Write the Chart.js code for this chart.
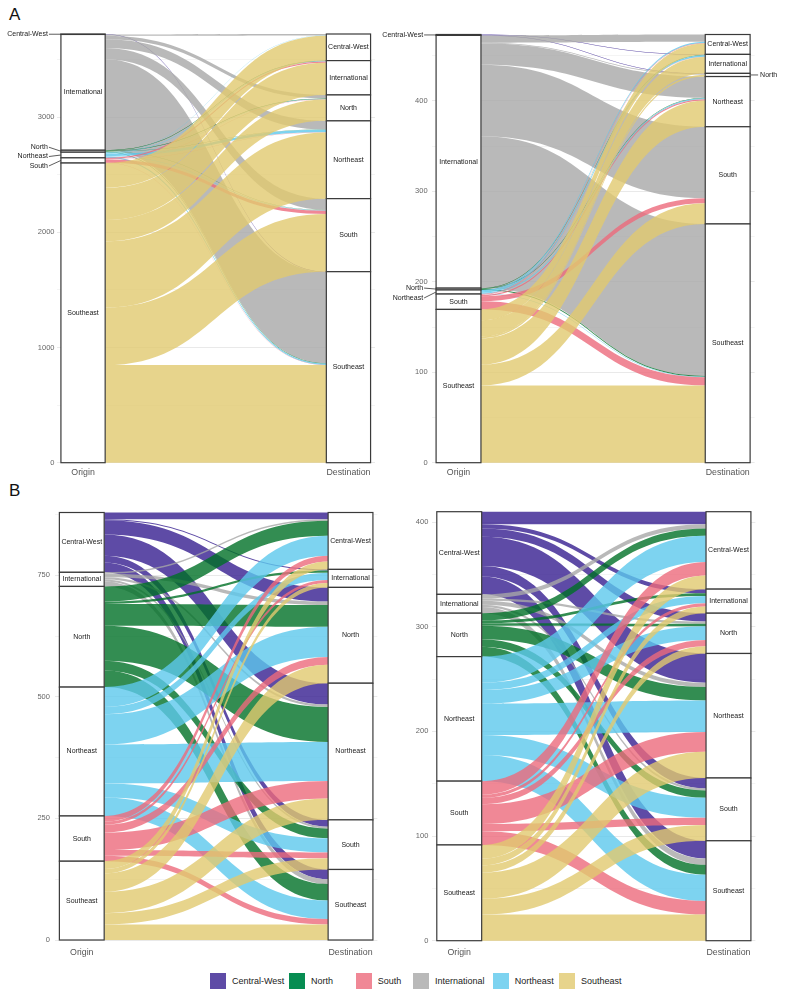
<!DOCTYPE html>
<html>
<head>
<meta charset="utf-8">
<script src="https://cdn.jsdelivr.net/npm/chart.js@4.4.1/dist/chart.umd.min.js"></script>
<style>
  body { margin: 0; background: #fff; width: 793px; height: 1001px; position: relative; overflow: hidden;
         font-family: "Liberation Sans", Arial, sans-serif; }
  canvas { position: absolute; }
  .tag { position: absolute; font-size: 17px; color: #111; }
  .key { position: absolute; top: 973px; height: 16px; display: flex; align-items: center; font-size: 9px; color: #222; white-space: nowrap; }
  .key span { display: inline-block; width: 16px; height: 16px; margin-right: 6px; }
</style>
</head>
<body>
<div class="tag" style="left:9px;top:5px">A</div>
<div class="tag" style="left:9px;top:481px">B</div>
<canvas id="aLeft"></canvas>
<canvas id="aRight"></canvas>
<canvas id="bLeft"></canvas>
<canvas id="bRight"></canvas>
<div id="legend"></div>
<script>
const regions = ['Central-West', 'International', 'North', 'Northeast', 'South', 'Southeast'];
const regionColors = ['#5e4ba6', '#b9b9b9', '#078d52', '#7dd3f0', '#f08896', '#e7d48c'];
const stages = ['Origin', 'Destination'];
const legendOrder = ['Central-West', 'North', 'South', 'International', 'Northeast', 'Southeast'];

// rows = origin, columns = destination, both in the order of `regions`
const flowsA1 = [
  [0, 0, 0, 0, 1, 3],
  [12, 0, 30, 75, 98, 790],
  [0, 3, 5, 3, 2, 4],
  [4, 5, 3, 20, 5, 12],
  [0, 10, 2, 3, 28, 2],
  [215, 280, 185, 574, 500, 847]
];
const flowsA2 = [
  [0, 0.5, 0.5, 0, 0, 0],
  [8, 0, 1, 23.5, 79, 168],
  [0, 0.5, 0, 0.5, 0, 1],
  [1.5, 1.5, 0, 1, 0, 0.5],
  [0.5, 0.5, 0, 1.5, 5.5, 9],
  [12, 18, 2, 29, 23, 85.5]
];
const flowsB1 = [
  [14, 2, 29, 44, 14, 20],
  [3, 0, 7, 5, 4, 10],
  [31, 5, 45, 72, 20, 34],
  [41, 15, 62, 80, 29, 38],
  [12, 6, 16, 36, 12, 11],
  [16, 9, 38, 44, 23, 32]
];
const flowsB2 = [
  [12, 4, 8, 28, 10, 17],
  [4, 0, 2, 4, 2, 6],
  [7, 2.5, 2.5, 13, 7, 9.5],
  [25, 7, 13, 30, 19, 25],
  [13, 3, 6, 19, 7, 13],
  [13, 6.5, 7, 25, 15, 25]
];

const ticksA1 = [0, 1000, 2000, 3000];
const ticksA2 = [0, 100, 200, 300, 400];
const ticksB1 = [0, 250, 500, 750];
const ticksB2 = [0, 100, 200, 300, 400];

const FONT = '"Liberation Sans", Arial, sans-serif';
const BAR_W = 1 / 6;
const ALPHA = 0.8;

// base colour that shows the legend colour when laid on white at ALPHA
function flowColor(hex) {
  const c = [1, 3, 5].map(i => parseInt(hex.slice(i, i + 2), 16));
  const b = c.map(v => Math.max(0, Math.min(255, Math.round((v - 255 * (1 - ALPHA)) / ALPHA))));
  return `rgba(${b[0]},${b[1]},${b[2]},${ALPHA})`;
}

const sum = a => a.reduce((s, v) => s + v, 0);

const alluvial = {
  id: 'alluvial',
  afterDatasetsDraw(chart, args, opts) {
    const { ctx, scales: { x, y } } = chart;
    const m = opts.flows;
    const n = regions.length;
    const outTot = m.map(sum);
    const inTot = regions.map((_, j) => sum(m.map(r => r[j])));
    const total = sum(outTot);
    const oTop = [], dTop = [];
    let a = total, b = total;
    for (let i = 0; i < n; i++) { oTop.push(a); a -= outTot[i]; dTop.push(b); b -= inTot[i]; }

    const oL = x.getPixelForValue(1 - BAR_W / 2), oR = x.getPixelForValue(1 + BAR_W / 2);
    const dL = x.getPixelForValue(2 - BAR_W / 2), dR = x.getPixelForValue(2 + BAR_W / 2);
    const xm = (oR + dL) / 2;

    // flows
    const oCur = oTop.slice(), dCur = dTop.slice();
    ctx.save();
    for (let i = 0; i < n; i++) {
      ctx.fillStyle = flowColor(regionColors[i]);
      for (let j = 0; j < n; j++) {
        const v = m[i][j];
        if (!v) continue;
        const a0 = y.getPixelForValue(oCur[i]), a1 = y.getPixelForValue(oCur[i] - v);
        const b0 = y.getPixelForValue(dCur[j]), b1 = y.getPixelForValue(dCur[j] - v);
        oCur[i] -= v; dCur[j] -= v;
        ctx.beginPath();
        ctx.moveTo(oR, a0);
        ctx.bezierCurveTo(xm, a0, xm, b0, dL, b0);
        ctx.lineTo(dL, b1);
        ctx.bezierCurveTo(xm, b1, xm, a1, oR, a1);
        ctx.closePath();
        ctx.fill();
      }
    }

    // strata
    const sides = [
      { tops: oTop, tots: outTot, l: oL, r: oR },
      { tops: dTop, tots: inTot, l: dL, r: dR }
    ];
    ctx.font = '7px ' + FONT;
    ctx.textBaseline = 'middle';
    sides.forEach((s, side) => {
      for (let i = 0; i < n; i++) {
        if (!s.tots[i]) continue;
        const t = y.getPixelForValue(s.tops[i]);
        const btm = y.getPixelForValue(s.tops[i] - s.tots[i]);
        ctx.fillStyle = '#fff';
        ctx.fillRect(s.l, t, s.r - s.l, btm - t);
        ctx.strokeStyle = '#3a3a3a';
        ctx.lineWidth = 1.2;
        ctx.strokeRect(s.l, t, s.r - s.l, btm - t);
        const mid = (t + btm) / 2;
        const out = (opts.outside || []).find(o => o.side === side && o.name === regions[i]);
        ctx.fillStyle = '#1a1a1a';
        if (out) {
          const ty = mid + out.dy;
          ctx.strokeStyle = '#333';
          ctx.lineWidth = 0.8;
          ctx.beginPath();
          if (side === 0) {
            ctx.moveTo(s.l - 12, ty); ctx.lineTo(s.l, mid);
            ctx.stroke();
            ctx.textAlign = 'right';
            ctx.fillText(regions[i], s.l - 13, ty);
          } else {
            ctx.moveTo(s.r, mid); ctx.lineTo(s.r + 8, ty);
            ctx.stroke();
            ctx.textAlign = 'left';
            ctx.fillText(regions[i], s.r + 10, ty);
          }
        } else if (btm - t >= 9) {
          ctx.textAlign = 'center';
          ctx.fillText(regions[i], (s.l + s.r) / 2, mid);
        }
      }
    });
    ctx.restore();
  }
};

function makePanel(id, flows, ticks, box, area, opt) {
  const canvas = document.getElementById(id);
  canvas.width = box.w;
  canvas.height = box.h;
  canvas.style.left = box.x + 'px';
  canvas.style.top = box.y + 'px';
  const total = sum(flows.map(sum));
  const step = ticks[1] - ticks[0];
  const gridVals = [];
  for (let v = 0; v <= total; v += step / 2) gridVals.push(v);

  new Chart(canvas, {
    type: 'scatter',
    data: { datasets: [] },
    options: {
      responsive: false,
      animation: false,
      events: [],
      layout: { padding: { left: 0, top: area.t - box.y, right: box.x + box.w - area.r, bottom: 0 } },
      plugins: {
        legend: { display: false },
        tooltip: { enabled: false },
        alluvial: { flows: flows, outside: opt.outside }
      },
      scales: {
        x: {
          type: 'linear', min: 0.9, max: 2.1,
          afterBuildTicks: s => { s.ticks = [{ value: 1 }, { value: 2 }]; },
          afterFit: s => { s.height = box.y + box.h - area.b; },
          grid: { display: false, drawTicks: false },
          border: { display: false },
          ticks: {
            callback: v => stages[v - 1],
            font: { size: 8.8, family: FONT }, color: '#555',
            padding: opt.xPad, maxRotation: 0, autoSkip: false
          }
        },
        y: {
          type: 'linear', min: 0, max: total,
          afterBuildTicks: s => { s.ticks = gridVals.map(v => ({ value: v })); },
          afterFit: s => { s.width = area.l - box.x; },
          grid: {
            color: c => ticks.includes(c.tick.value) ? '#e9e9e9' : '#f4f4f4',
            drawTicks: false
          },
          border: { display: false },
          ticks: {
            callback: v => ticks.includes(v) ? String(v) : '',
            font: { size: 7.5, family: FONT }, color: '#666',
            padding: opt.yPad, autoSkip: false
          }
        }
      }
    },
    plugins: [alluvial]
  });
}

makePanel('aLeft', flowsA1, ticksA1,
  { x: 0, y: 26, w: 380, h: 459 }, { l: 56.5, t: 34, r: 375, b: 462.7 },
  { xPad: 5, yPad: 2, outside: [
    { side: 0, name: 'Central-West', dy: 0 },
    { side: 0, name: 'North', dy: -4 },
    { side: 0, name: 'Northeast', dy: 1.5 },
    { side: 0, name: 'South', dy: 5.5 }
  ] });

makePanel('aRight', flowsA2, ticksA2,
  { x: 378, y: 26, w: 415, h: 459 }, { l: 431.6, t: 34, r: 754.6, b: 462.7 },
  { xPad: 5, yPad: 4, outside: [
    { side: 0, name: 'Central-West', dy: 0 },
    { side: 0, name: 'North', dy: -1 },
    { side: 0, name: 'Northeast', dy: 6 },
    { side: 1, name: 'North', dy: 0 }
  ] });

makePanel('bLeft', flowsB1, ticksB1,
  { x: 0, y: 503, w: 385, h: 460 }, { l: 54.9, t: 511.7, r: 377.4, b: 940 },
  { xPad: 7, yPad: 5, outside: [] });

makePanel('bRight', flowsB2, ticksB2,
  { x: 390, y: 503, w: 403, h: 460 }, { l: 432.3, t: 511.7, r: 755.4, b: 940.7 },
  { xPad: 7, yPad: 4, outside: [] });

// legend
const legendX = [210, 289, 355.7, 413, 492.7, 559];
const legend = document.getElementById('legend');
legendOrder.forEach((name, k) => {
  const el = document.createElement('div');
  el.className = 'key';
  el.style.left = legendX[k] + 'px';
  const sw = document.createElement('span');
  sw.style.background = regionColors[regions.indexOf(name)];
  el.appendChild(sw);
  el.appendChild(document.createTextNode(name));
  legend.appendChild(el);
});
</script>
</body>
</html>
